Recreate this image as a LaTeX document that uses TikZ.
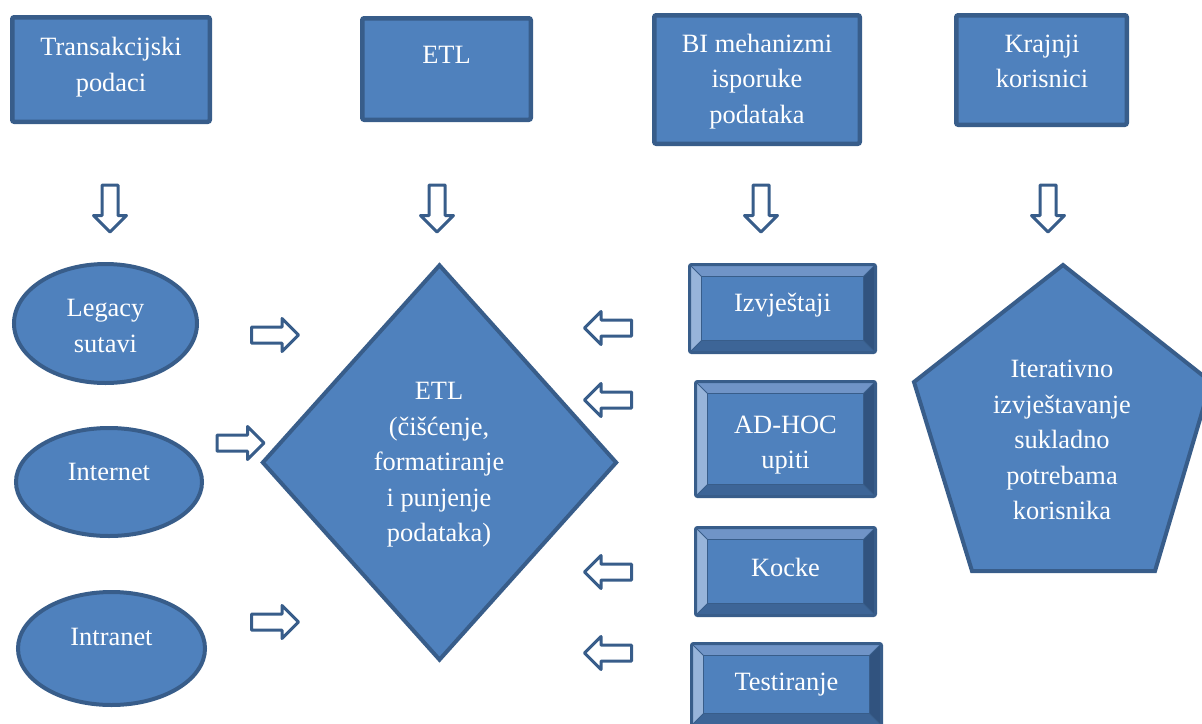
\documentclass[tikz,border=0pt]{standalone}
\usepackage{fontspec}
\setmainfont{Liberation Serif}
\usetikzlibrary{shapes.geometric,shapes.arrows}
\definecolor{face}{HTML}{4F81BD}
\definecolor{bdr}{HTML}{385D8A}
\definecolor{bvtop}{HTML}{7094C7}
\definecolor{bvleft}{HTML}{97B4DA}
\definecolor{bvbot}{HTML}{3D6597}
\definecolor{bvright}{HTML}{31537F}
\begin{document}
\begin{tikzpicture}[x=1pt,y=-1pt,
  txt/.style={text=white, align=center, font=\fontsize{26.4pt}{35.5pt}\selectfont, inner sep=0pt},
  topbox/.style={rectangle, draw=bdr, fill=face, line width=4.5pt, rounded corners=2pt, inner sep=0pt},
  oval/.style={ellipse, draw=bdr, fill=face, line width=4pt, inner sep=0pt},
  blockarrow/.style={single arrow, draw=bdr, fill=white, line width=3pt, line join=round,
    inner xsep=0pt, inner ysep=6.5pt, single arrow head extend=8.5pt,
    single arrow tip angle=90, minimum height=47pt},
  downarrow/.style={blockarrow, shape border rotate=270, inner xsep=6.5pt, inner ysep=0pt},
  leftarrow/.style={blockarrow, shape border rotate=180},
  bevelbox/.style={rectangle, draw=bdr, fill=face, line width=3pt, rounded corners=2pt, inner sep=0pt,
    path picture={
      \coordinate (NW) at (path picture bounding box.north west);
      \coordinate (NE) at (path picture bounding box.north east);
      \coordinate (SW) at (path picture bounding box.south west);
      \coordinate (SE) at (path picture bounding box.south east);
      \coordinate (nw) at ([shift={(12pt,-12pt)}]NW);
      \coordinate (ne) at ([shift={(-12pt,-12pt)}]NE);
      \coordinate (sw) at ([shift={(12pt,12pt)}]SW);
      \coordinate (se) at ([shift={(-12pt,12pt)}]SE);
      \fill[bvtop, sharp corners] (NW) -- (NE) -- (ne) -- (nw) -- cycle;
      \fill[bvleft, sharp corners] (NW) -- (SW) -- (sw) -- (nw) -- cycle;
      \fill[bvbot, sharp corners] (SW) -- (SE) -- (se) -- (sw) -- cycle;
      \fill[bvright, sharp corners] (NE) -- (SE) -- (se) -- (ne) -- cycle;
      \draw[bdr, line width=1pt, sharp corners] (nw) rectangle (se);
      \draw[bdr, line width=1pt] (NW) -- (nw) (NE) -- (ne) (SW) -- (sw) (SE) -- (se);
    }},
  polyshape/.style={draw=bdr, fill=face, line width=4pt, line join=miter}
]
\useasboundingbox (0,0) rectangle (1202,723);

% top boxes
\node[topbox, minimum width=197.5pt, minimum height=104.5pt] (trans) at (111,69.5) {};
\node[txt] (ttrans) at (111,67) {Transakcijski\\podaci};
\node[topbox, minimum width=168.5pt, minimum height=101.5pt] (etl) at (446.5,69) {};
\node[txt] (tetl) at (446.5,55) {ETL};
\node[topbox, minimum width=205.5pt, minimum height=128.5pt] (bi) at (757,79.5) {};
\node[txt] (tbi) at (757,81.5) {BI mehanizmi\\isporuke\\podataka};
\node[topbox, minimum width=170.5pt, minimum height=109.5pt] (kraj) at (1041.5,70) {};
\node[txt] (tkraj) at (1042,61.5) {Krajnji\\korisnici};

% down arrows
\node[downarrow] (d1) at (110,204.5) {};
\node[downarrow] (d2) at (437,204.5) {};
\node[downarrow] (d3) at (761,204.5) {};
\node[downarrow] (d4) at (1048,204.5) {};

% ovals
\node[oval, minimum width=183pt, minimum height=119pt] (legacy) at (105.5,323.5) {};
\node[txt] (tlegacy) at (105.5,326) {Legacy\\sutavi};
\node[oval, minimum width=186pt, minimum height=108pt] (internet) at (109,482) {};
\node[txt] (tinternet) at (109,471.5) {Internet};
\node[oval, minimum width=187pt, minimum height=113pt] (intranet) at (111.5,648.5) {};
\node[txt] (tintranet) at (111.5,637) {Intranet};

% right arrows
\node[blockarrow] (r1) at (271,335) {};
\node[blockarrow] (r2) at (236.5,443) {};
\node[blockarrow] (r3) at (271,622) {};

% diamond
\node[diamond, draw=bdr, fill=face, line width=4pt, inner sep=0pt,
      minimum width=355pt, minimum height=396pt] (etlmain) at (439.5,462.5) {};
\node[txt] (tetlmain) at (439,465) {ETL\\(čišćenje,\\formatiranje\\i punjenje\\podataka)};

% left arrows
\node[leftarrow] (l1) at (612,328) {};
\node[leftarrow] (l2) at (612,400) {};
\node[leftarrow] (l3) at (612,572) {};
\node[leftarrow] (l4) at (612,653) {};

% bevel boxes
\node[bevelbox, minimum width=186pt, minimum height=88pt] (izv) at (782.5,308.5) {};
\node[txt] (tizv) at (782.5,305) {Izvještaji};
\node[bevelbox, minimum width=180pt, minimum height=115pt] (adhoc) at (785.5,439) {};
\node[txt] (tadhoc) at (785.5,445) {AD-HOC\\upiti};
\node[bevelbox, minimum width=180pt, minimum height=88pt] (kocke) at (785.5,571.5) {};
\node[txt] (tkocke) at (785.5,567.5) {Kocke};
\node[bevelbox, minimum width=190pt, minimum height=82pt] (test) at (786.5,684.5) {};
\node[txt] (ttest) at (786.5,685) {Testiranje};

% pentagon
\draw[polyshape] (1063,265) -- (1211,382) -- (1155,571) -- (972,571) -- (914,382) -- cycle;
\node[txt] (titer) at (1062,440) {Iterativno\\izvještavanje\\sukladno\\potrebama\\korisnika};
\end{tikzpicture}
\end{document}
